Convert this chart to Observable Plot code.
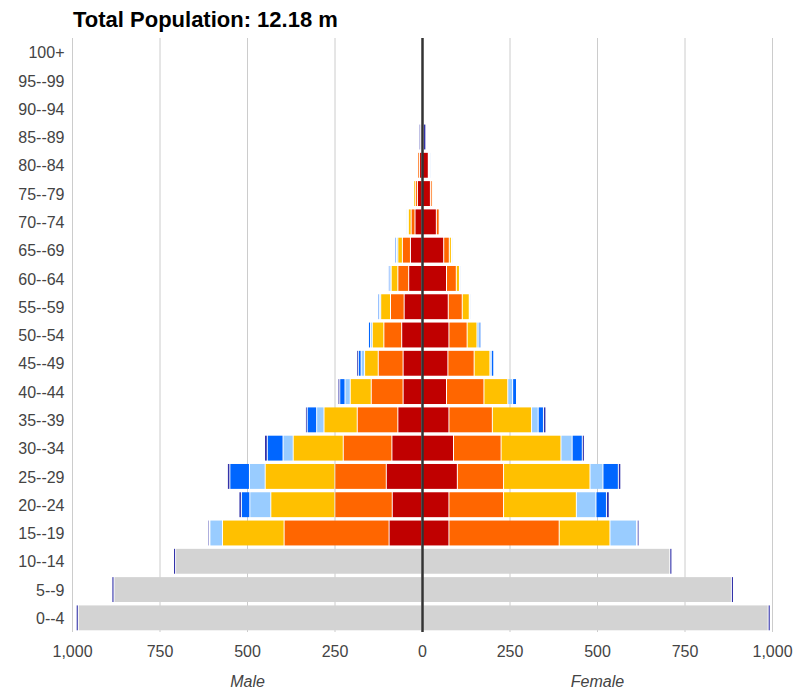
<!DOCTYPE html>
<html><head><meta charset="utf-8">
<script src="https://cdn.jsdelivr.net/npm/d3@7"></script>
<script src="https://cdn.jsdelivr.net/npm/@observablehq/plot@0.6"></script>
<style>
body{margin:0;background:#fff;font-family:Arial,"Liberation Sans",sans-serif}
#wrap{position:relative;width:794px;height:689px;overflow:hidden}
#title{position:absolute;left:73px;top:7px;font-size:22px;font-weight:bold;color:#000;line-height:26px;white-space:nowrap}
#chart{position:absolute;left:0;top:38px}
</style></head><body>
<div id="wrap"><div id="title">Total Population: 12.18 m</div><div id="chart"></div></div>
<script>
const titleText = "Total Population: 12.18 m";
const ageGroups = ["100+","95--99","90--94","85--89","80--84","75--79","70--74","65--69","60--64","55--59","50--54","45--49","40--44","35--39","30--34","25--29","20--24","15--19","10--14","5--9","0--4"];
const seriesNames = ["grey","red","orange","amber","lightblue","blue","navy"];
const seriesColors = ["#d3d3d3","#c00000","#ff6600","#ffc000","#99ccff","#0066ff","#3333aa"];
const xTicks = [-1000,-750,-500,-250,0,250,500,750,1000];
const sideLabels = ["Male","Female"];
const sideX = [-500, 500];

// values in thousands, ordered as ageGroups (top to bottom)
const maleGrey   = [0,0,0,0,0,0,0,0,0,0,0,0,0,0,0,0,0,0,704,880,982];
const maleRed    = [0,0,0,3,7,13,20,33,38,51,58,54,54,69,86,102,85,94,0,0,0];
const maleOrange = [0,0,0,0,5,6,11,23,31,39,51,71,91,116,139,147,164,300,0,0,0];
const maleAmber  = [0,0,0,0,1,5,8,13,19,28,33,39,60,95,143,199,183,176,0,0,0];
const maleLight  = [0,0,0,0,2,2,3,4,4,4,5,10,15,21,29,45,60,36,0,0,0];
const maleBlue   = [0,0,0,1,2,2,3,4,4,4,6,8,15,27,45,56,24,2,0,0,0];
const maleNavy   = [0,0,0,4,0,0,0,0,0,0,2,5,5,5,8,7,7,4,6,6,6];

const femaleGrey   = [0,0,0,0,0,0,0,0,0,0,0,0,0,0,0,0,0,0,708,884,989];
const femaleRed    = [0,0,0,4,18,24,41,62,70,75,77,74,70,77,90,101,77,77,0,0,0];
const femaleOrange = [0,0,0,0,1,5,8,16,28,40,52,75,107,124,136,132,156,315,0,0,0];
const femaleAmber  = [0,0,4,0,1,3,3,6,9,20,28,45,68,112,171,247,208,145,0,0,0];
const femaleLight  = [0,0,0,0,2,1,2,2,2,2,6,4,14,19,32,37,56,76,0,0,0];
const femaleBlue   = [0,0,0,0,3,2,2,3,3,3,5,7,11,15,29,44,30,2,0,0,0];
const femaleNavy   = [0,0,0,7,0,0,0,0,0,0,1,2,0,7,6,7,8,5,6,6,6];

const male = [maleGrey, maleRed, maleOrange, maleAmber, maleLight, maleBlue, maleNavy];
const female = [femaleGrey, femaleRed, femaleOrange, femaleAmber, femaleLight, femaleBlue, femaleNavy];

const table = [];
ageGroups.forEach((age, i) => {
  seriesNames.forEach((s, j) => {
    const m = male[j][i], f = female[j][i];
    if (m) table.push({age, series: s, value: -m});
    if (f) table.push({age, series: s, value: f});
  });
});

const fmt = d => d3.format(",")(Math.abs(d));

const chart = Plot.plot({
  width: 794, height: 651,
  marginTop: 0, marginBottom: 57, marginLeft: 72, marginRight: 22,
  style: {fontFamily: "Arial, 'Liberation Sans', sans-serif", fontSize: "16px", color: "#444", background: "white", overflow: "visible"},
  x: {domain: [-1000, 1000]},
  y: {domain: ageGroups, paddingInner: 0.12, paddingOuter: 0.06, round: false},
  color: {domain: seriesNames, range: seriesColors},
  marks: [
    Plot.gridX({ticks: xTicks, stroke: "#cccccc", strokeOpacity: 1, strokeWidth: 1}),
    Plot.barX(table, Plot.stackX({y: "age", x: "value", z: "series", fill: "series", insetLeft: 0.5, insetRight: 0.5})),
    Plot.ruleX([0], {stroke: "#333", strokeWidth: 2.5}),
    Plot.axisX({ticks: xTicks, tickSize: 0, tickPadding: 13, tickFormat: fmt, fill: "#444", fontSize: 16, label: null}),
    Plot.axisY({tickSize: 0, tickPadding: 8, dy: 0.5, fill: "#444", fontSize: 16, label: null}),
    Plot.text(sideLabels, {x: (d, i) => sideX[i], text: d => d, frameAnchor: "bottom", lineAnchor: "bottom", dy: 54, fontStyle: "italic", fill: "#444", fontSize: 16})
  ]
});
document.getElementById("chart").appendChild(chart);
document.getElementById("title").textContent = titleText;
</script>
</body></html>
